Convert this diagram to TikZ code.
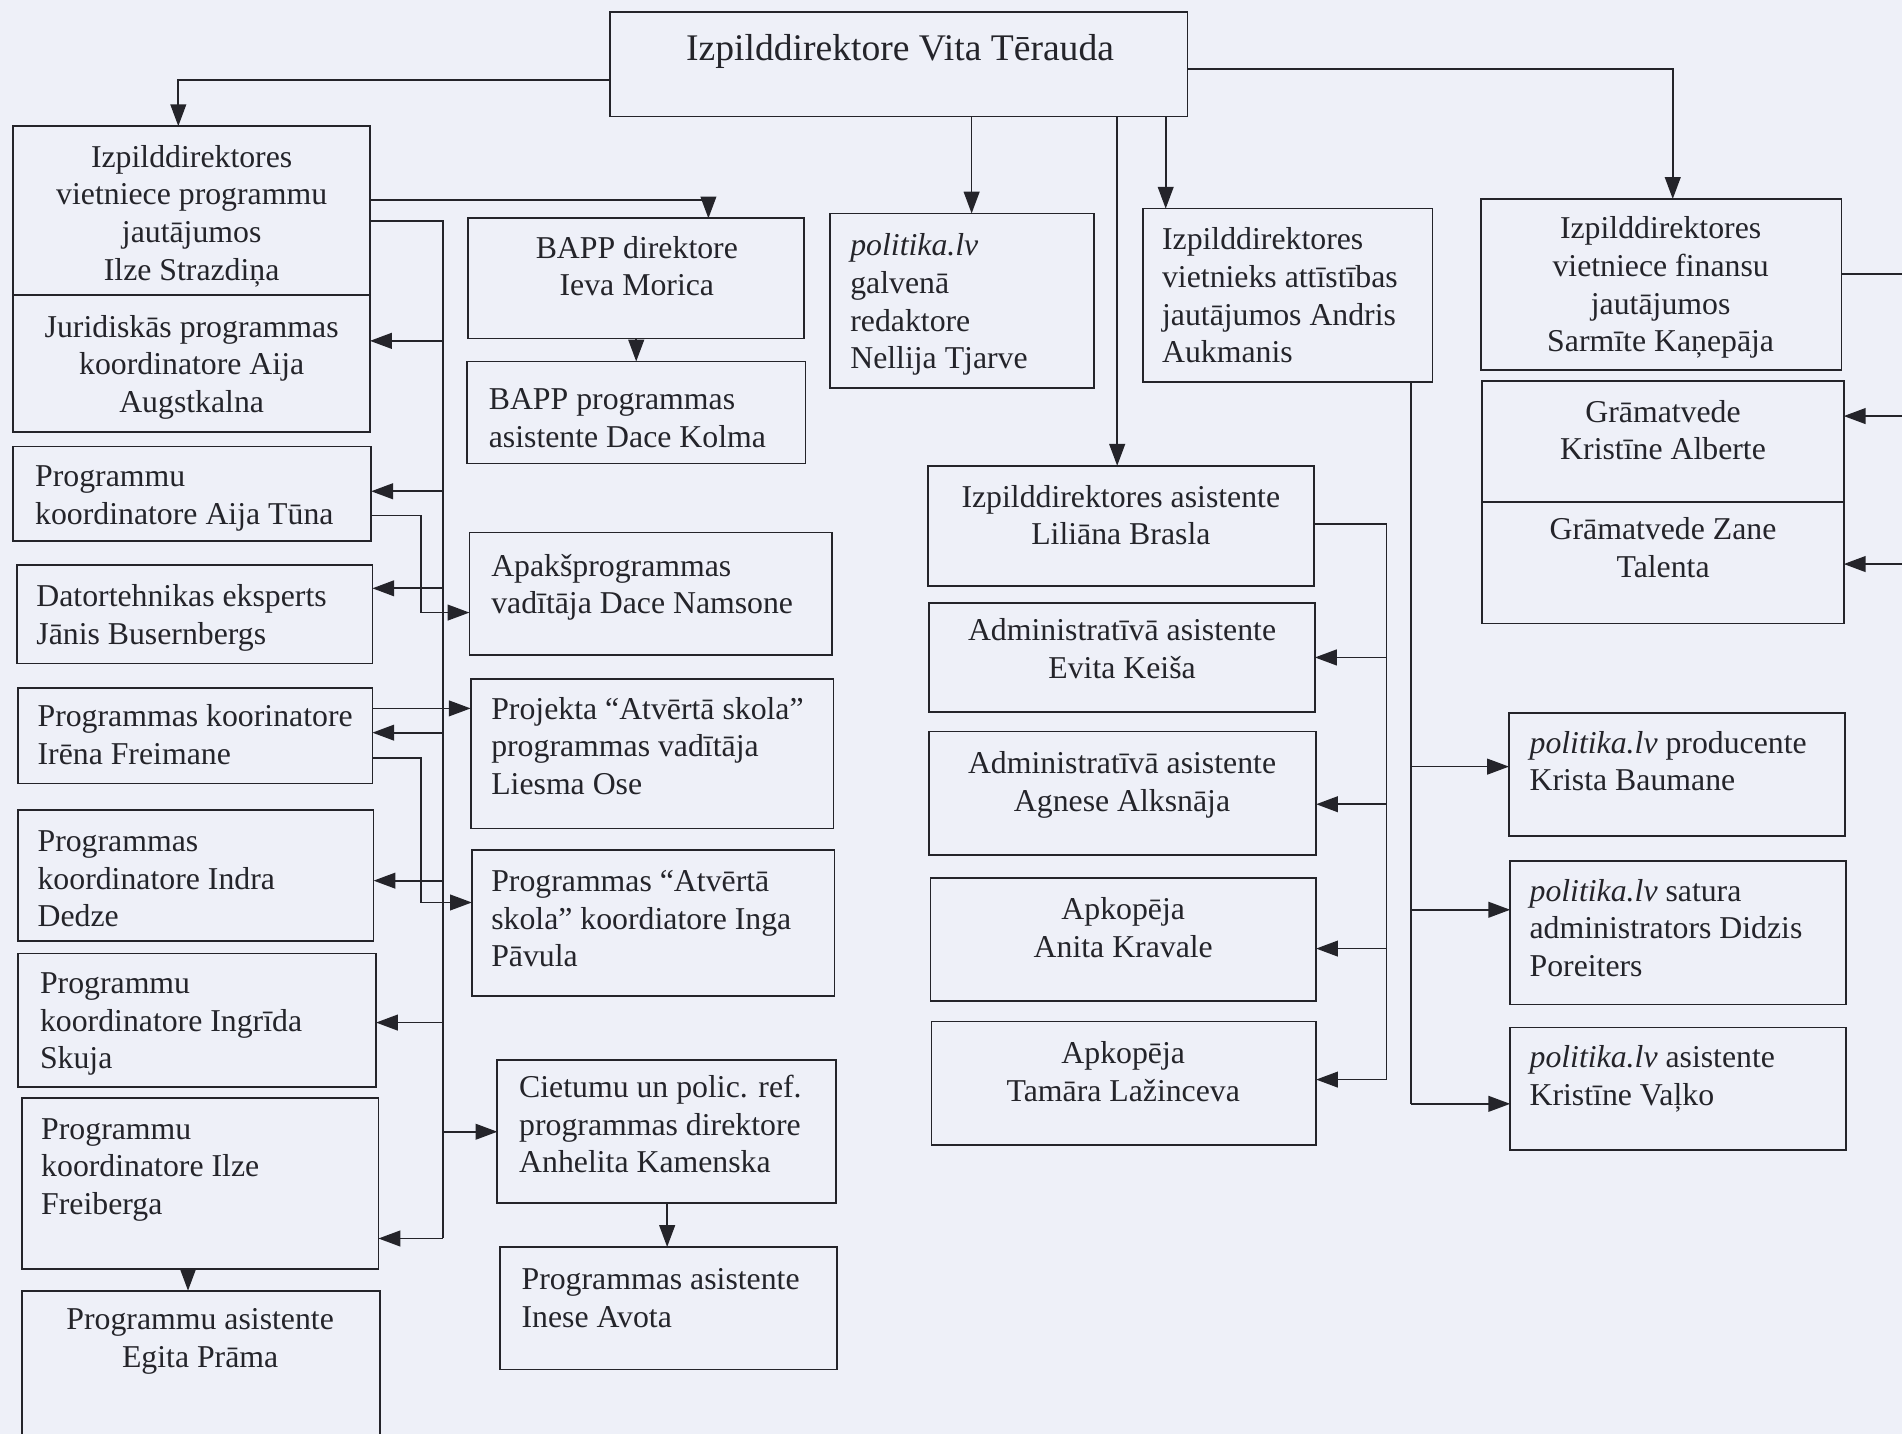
\documentclass[tikz,border=0pt]{standalone}
\usepackage{fontspec}
\setmainfont{Liberation Serif}
\usetikzlibrary{arrows.meta}
\definecolor{paper}{RGB}{238,240,248}
\definecolor{ink}{RGB}{36,36,42}
\newcommand\tlL[1]{\vtop{\halign{##\hfil\cr#1\crcr}}}
\newcommand\tlC[1]{\vtop{\halign{\hfil##\hfil\cr#1\crcr}}}
\newcommand\obox[5]{\node[boxst, minimum width={#4pt-#2pt}, minimum height={#5pt-#3pt}, anchor=north west] (#1) at (#2,#3) {};}
\tikzset{
  boxst/.style={draw=ink, line width=1.4pt, rectangle, inner sep=0pt, outer sep=0pt},
  txt/.style={inner sep=0pt, outer sep=0pt, text=ink, font=\fontsize{26.2}{31}\selectfont},
  ln/.style={draw=ink, line width=1.4pt},
  arr/.style={draw=ink, line width=1.4pt, -{Triangle[length=18pt,width=13pt]}}
}
\begin{document}
\begin{tikzpicture}[x=1pt,y=-1pt]
\fill[paper] (0,0) rectangle (1568,1182);
\useasboundingbox (0,0) rectangle (1568,1182);
% boxes
\obox{title}{503}{10}{979}{96}
\obox{b1}{11}{104}{305}{243}
\obox{jur}{11}{243}{305}{356}
\obox{aija}{11}{368}{306}{446}
\obox{dat}{14}{466}{307}{547}
\obox{ire}{15}{567}{307}{646}
\obox{ind}{15}{668}{308}{776}
\obox{ing}{15}{786}{310}{896}
\obox{ilz}{18}{905}{312}{1046}
\obox{egi}{18}{1064}{313}{1187}
\obox{bapp}{386}{180}{663}{279}
\obox{bappa}{385}{298}{664}{382}
\obox{apa}{387}{439}{686}{540}
\obox{pro}{388}{560}{687}{683}
\obox{pas}{389}{701}{688}{821}
\obox{cie}{410}{874}{689}{992}
\obox{ine}{412}{1028}{690}{1129}
\obox{pol}{684}{176}{902}{320}
\obox{andr}{942}{172}{1181}{315}
\obox{lil}{765}{384}{1083}{483}
\obox{evi}{766}{497}{1084}{587}
\obox{agn}{766}{603}{1085}{705}
\obox{ani}{767}{724}{1085}{825}
\obox{tam}{768}{842}{1085}{944}
\obox{sar}{1221}{164}{1518}{305}
\obox{kri}{1222}{314}{1520}{414}
\obox{zan}{1222}{414}{1520}{514}
\obox{prd}{1244}{588}{1521}{689}
\obox{sat}{1245}{710}{1522}{828}
\obox{val}{1245}{847}{1522}{948}
% texts
\node[txt, font=\fontsize{31}{36}\selectfont, anchor=base] (t-title) at (742,50) {Izpilddirektore Vita Tērauda};
\node[txt, anchor=base] (t-b1) at (158,138) {\tlC{Izpilddirektores\cr vietniece programmu\cr jautājumos\cr Ilze Strazdiņa}};
\node[txt, anchor=base] (t-jur) at (158,278) {\tlC{Juridiskās programmas\cr koordinatore Aija\cr Augstkalna}};
\node[txt, anchor=base west] (t-aija) at (29,401) {\tlL{Programmu\cr koordinatore Aija Tūna}};
\node[txt, anchor=base west] (t-dat) at (30,500) {\tlL{Datortehnikas eksperts\cr Jānis Busernbergs}};
\node[txt, anchor=base west] (t-ire) at (31,599) {\tlL{Programmas koorinatore\cr Irēna Freimane}};
\node[txt, anchor=base west] (t-ind) at (31,702) {\tlL{Programmas\cr koordinatore Indra\cr Dedze}};
\node[txt, anchor=base west] (t-ing) at (33,819) {\tlL{Programmu\cr koordinatore Ingrīda\cr Skuja}};
\node[txt, anchor=base west] (t-ilz) at (34,939) {\tlL{Programmu\cr koordinatore Ilze\cr Freiberga}};
\node[txt, anchor=base] (t-egi) at (165,1096) {\tlC{Programmu asistente\cr Egita Prāma}};
\node[txt, anchor=base] (t-bapp) at (525,213) {\tlC{BAPP direktore\cr Ieva Morica}};
\node[txt, anchor=base west] (t-bappa) at (403,338) {\tlL{BAPP programmas\cr asistente Dace Kolma}};
\node[txt, anchor=base west] (t-apa) at (405,475) {\tlL{Apakšprogrammas\cr vadītāja Dace Namsone}};
\node[txt, anchor=base west] (t-pro) at (405,593) {\tlL{Projekta “Atvērtā skola”\cr programmas vadītāja\cr Liesma Ose}};
\node[txt, anchor=base west] (t-pas) at (405,735) {\tlL{Programmas “Atvērtā\cr skola” koordiatore Inga\cr Pāvula}};
\node[txt, anchor=base west] (t-cie) at (428,905) {\tlL{Cietumu un polic. ref.\cr programmas direktore\cr Anhelita Kamenska}};
\node[txt, anchor=base west] (t-ine) at (430,1063) {\tlL{Programmas asistente\cr Inese Avota}};
\node[txt, anchor=base west] (t-pol) at (701,211) {\tlL{\textit{politika.lv}\cr galvenā\cr redaktore\cr Nellija Tjarve}};
\node[txt, anchor=base west] (t-andr) at (958,206) {\tlL{Izpilddirektores\cr vietnieks attīstības\cr jautājumos Andris\cr Aukmanis}};
\node[txt, anchor=base] (t-lil) at (924,418) {\tlC{Izpilddirektores asistente\cr Liliāna Brasla}};
\node[txt, anchor=base] (t-evi) at (925,528) {\tlC{Administratīvā asistente\cr Evita Keiša}};
\node[txt, anchor=base] (t-agn) at (925,638) {\tlC{Administratīvā asistente\cr Agnese Alksnāja}};
\node[txt, anchor=base] (t-ani) at (926,758) {\tlC{Apkopēja\cr Anita Kravale}};
\node[txt, anchor=base] (t-tam) at (926,877) {\tlC{Apkopēja\cr Tamāra Lažinceva}};
\node[txt, anchor=base] (t-sar) at (1369,197) {\tlC{Izpilddirektores\cr vietniece finansu\cr jautājumos\cr Sarmīte Kaņepāja}};
\node[txt, anchor=base] (t-kri) at (1371,348) {\tlC{Grāmatvede\cr Kristīne Alberte}};
\node[txt, anchor=base] (t-zan) at (1371,445) {\tlC{Grāmatvede Zane\cr Talenta}};
\node[txt, anchor=base west] (t-prd) at (1261,621) {\tlL{\textit{politika.lv} producente\cr Krista Baumane}};
\node[txt, anchor=base west] (t-sat) at (1261,743) {\tlL{\textit{politika.lv} satura\cr administrators Didzis\cr Poreiters}};
\node[txt, anchor=base west] (t-val) at (1261,880) {\tlL{\textit{politika.lv} asistente\cr Kristīne Vaļko}};
% connectors from the director
\draw[arr] (title.west |- 0,66) -| (b1.north -| 147,0);
\draw[arr] (title.east |- 0,57) -| (sar.north -| 1379,0);
\draw[arr] (title.south -| 801,0) -- (pol.north -| 801,0);
\draw[arr] (title.south -| 921,0) -- (lil.north -| 921,0);
\draw[arr] (title.south -| 961,0) -- (andr.north -| 961,0);
% program deputy
\draw[arr] (b1.east |- 0,165) -| (bapp.north -| 584,0);
\coordinate (tk) at (365,182);
\coordinate (tkb) at (365,1021);
\draw[ln] (b1.east |- tk) -- (tk) -- (tkb);
\draw[arr] (tk |- 0,281) -- (jur.east |- 0,281);
\draw[arr] (tk |- 0,405) -- (aija.east |- 0,405);
\draw[arr] (tk |- 0,485) -- (dat.east |- 0,485);
\draw[arr] (tk |- 0,604) -- (ire.east |- 0,604);
\draw[arr] (tk |- 0,726) -- (ind.east |- 0,726);
\draw[arr] (tk |- 0,843) -- (ing.east |- 0,843);
\draw[arr] (tkb) -- (ilz.east |- tkb);
\draw[arr] (tk |- 0,933) -- (cie.west |- 0,933);
\draw[arr] (ire.east |- 0,584) -- (pro.west |- 0,584);
\draw[arr] (aija.east |- 0,425) -| (347,505) -- (apa.west |- 0,505);
\draw[arr] (ire.east |- 0,625) -| (347,744) -- (pas.west |- 0,744);
\draw[arr] (ilz.south -| 155,0) -- (egi.north -| 155,0);
\draw[arr] (bapp.south) -- (bappa.north -| bapp.south);
\draw[arr] (cie.south -| 550,0) -- (ine.north -| 550,0);
% assistant branch
\coordinate (lt) at (1143,432);
\coordinate (lb) at (1143,890);
\draw[ln] (lil.east |- lt) -- (lt) -- (lb);
\draw[arr] (lt |- 0,542) -- (evi.east |- 0,542);
\draw[arr] (lt |- 0,663) -- (agn.east |- 0,663);
\draw[arr] (lt |- 0,782) -- (ani.east |- 0,782);
\draw[arr] (lb) -- (tam.east |- lb);
% development deputy branch
\coordinate (at) at (1163,315);
\coordinate (ab) at (1163,910);
\draw[ln] (andr.south -| at) -- (ab);
\draw[arr] (at |- 0,632) -- (prd.west |- 0,632);
\draw[arr] (at |- 0,750) -- (sat.west |- 0,750);
\draw[arr] (ab) -- (val.west |- ab);
% finance deputy branch (continues beyond the right edge)
\coordinate (re1) at (1568,226);
\coordinate (re2) at (1568,343);
\coordinate (re3) at (1568,465);
\draw[ln] (sar.east |- re1) -- (re1);
\draw[arr] (re2) -- (kri.east |- re2);
\draw[arr] (re3) -- (zan.east |- re3);
\end{tikzpicture}
\end{document}
